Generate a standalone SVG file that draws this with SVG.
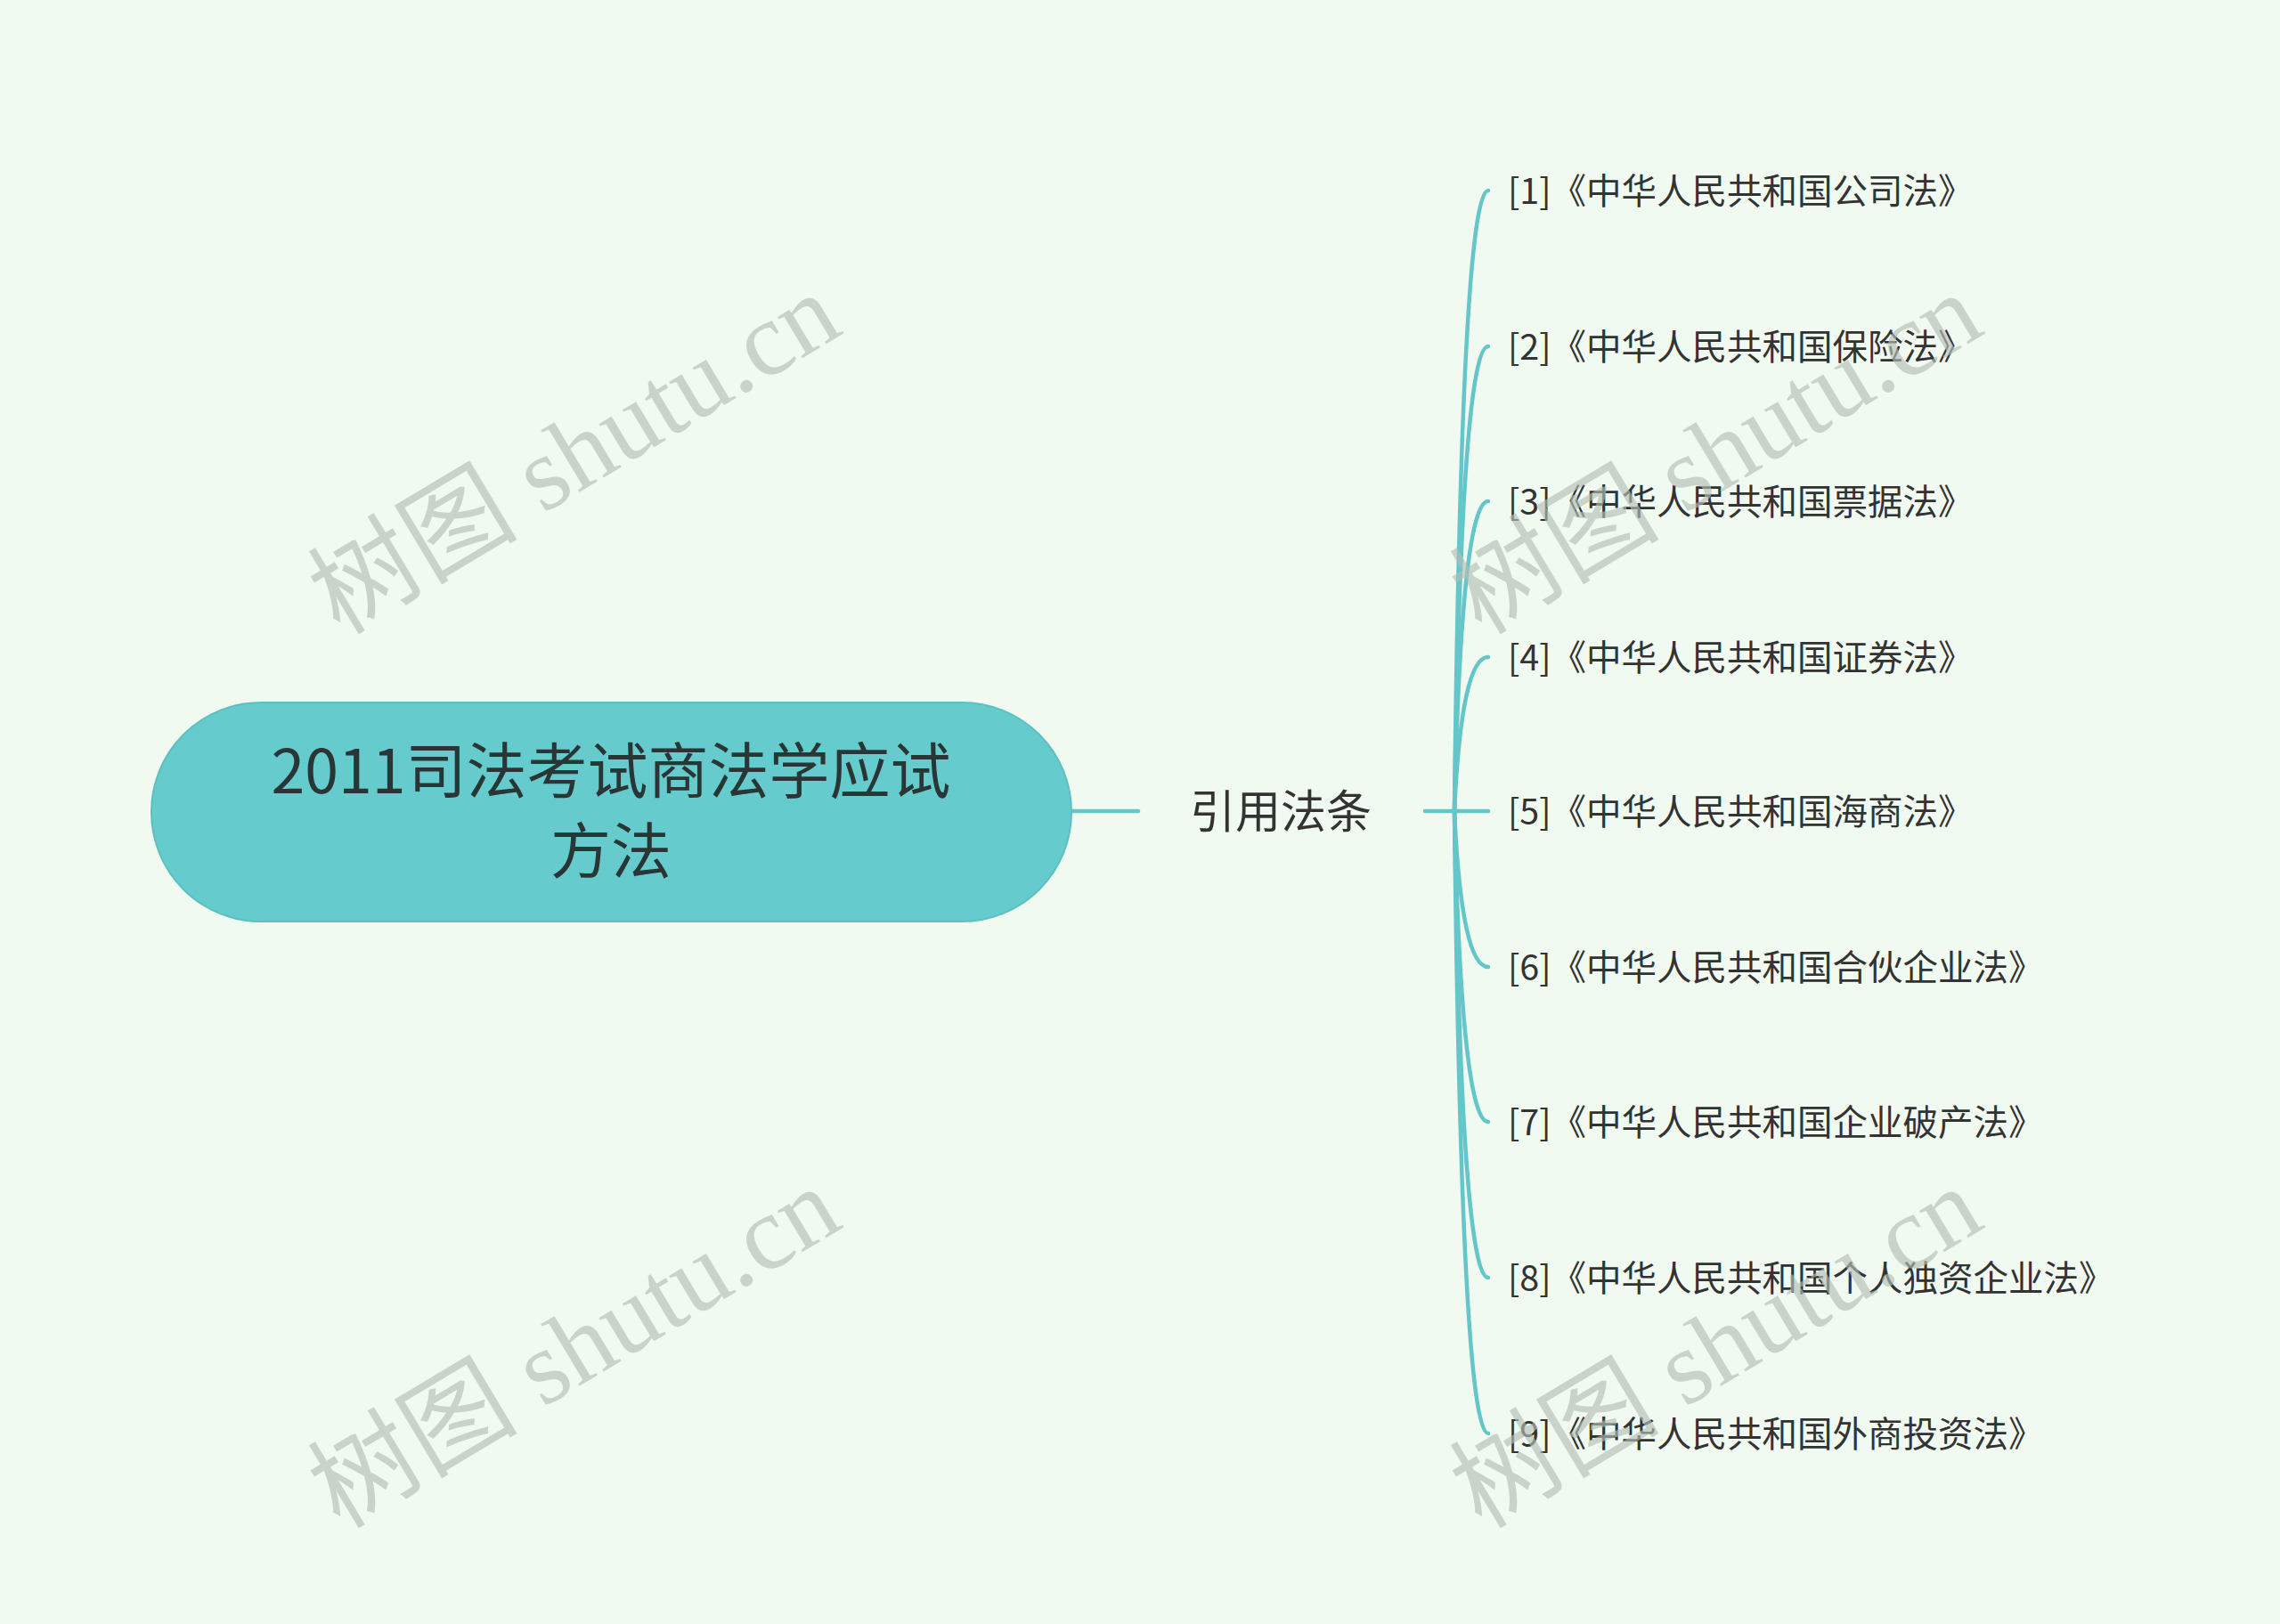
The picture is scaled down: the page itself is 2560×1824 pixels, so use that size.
<svg xmlns="http://www.w3.org/2000/svg" width="2560" height="1824" viewBox="0 0 2560 1824">
<style>
.bg{fill:#f0faf0}
.root{fill:#65cbcc;stroke:#5cc0c1;stroke-width:2}
.rt{font-family:"Noto Sans CJK SC","Noto Sans",sans-serif;font-size:68px;fill:#2a3636;text-anchor:middle;dominant-baseline:central}
.mt{font-family:"Noto Sans CJK SC","Noto Sans",sans-serif;font-size:51px;fill:#333333;text-anchor:middle;dominant-baseline:central}
.ct{font-family:"Noto Sans CJK SC","Noto Sans",sans-serif;font-size:39.5px;fill:#333333;dominant-baseline:central}
.ln{fill:none;stroke:#64c6c9;stroke-width:4.5;stroke-linecap:round}
.wm{font-family:"Liberation Serif","Noto Sans CJK SC",serif;font-size:118px;fill:#b3beb5;fill-opacity:0.65;text-anchor:middle;dominant-baseline:central}
</style>
<rect class="bg" x="0" y="0" width="2560" height="1824"/>
<g id="connectors">
<path class="ln" d="M1203 911 L1278 911"/>
<path class="ln" d="M1600 911 L1633 911"/>
<path class="ln" d="M1633 911 Q1641 214 1671 214"/>
<path class="ln" d="M1633 911 Q1641 389 1671 389"/>
<path class="ln" d="M1633 911 Q1641 563 1671 563"/>
<path class="ln" d="M1633 911 Q1641 738 1671 738"/>
<path class="ln" d="M1633 911 L1671 911"/>
<path class="ln" d="M1633 911 Q1641 1086 1671 1086"/>
<path class="ln" d="M1633 911 Q1641 1260 1671 1260"/>
<path class="ln" d="M1633 911 Q1641 1435 1671 1435"/>
<path class="ln" d="M1633 911 Q1641 1610 1671 1610"/>
</g>
<g id="root">
<rect class="root" x="170" y="789" width="1033" height="246" rx="123" ry="123"/>
<text class="rt" x="686" y="861">2011司法考试商法学应试</text>
<text class="rt" x="686" y="951">方法</text>
</g>
<g id="main">
<text class="mt" x="1438" y="908">引用法条</text>
</g>
<g id="c1"><text class="ct" x="1693" y="211">[1]《中华人民共和国公司法》</text></g>
<g id="c2"><text class="ct" x="1693" y="386">[2]《中华人民共和国保险法》</text></g>
<g id="c3"><text class="ct" x="1693" y="560">[3]《中华人民共和国票据法》</text></g>
<g id="c4"><text class="ct" x="1693" y="735">[4]《中华人民共和国证券法》</text></g>
<g id="c5"><text class="ct" x="1693" y="908">[5]《中华人民共和国海商法》</text></g>
<g id="c6"><text class="ct" x="1693" y="1083">[6]《中华人民共和国合伙企业法》</text></g>
<g id="c7"><text class="ct" x="1693" y="1257">[7]《中华人民共和国企业破产法》</text></g>
<g id="c8"><text class="ct" x="1693" y="1432">[8]《中华人民共和国个人独资企业法》</text></g>
<g id="c9"><text class="ct" x="1693" y="1607">[9]《中华人民共和国外商投资法》</text></g>
<g id="watermarks">
<text class="wm" transform="translate(645 510) rotate(-31)">树图 shutu.cn</text>
<text class="wm" transform="translate(1927 510) rotate(-31)">树图 shutu.cn</text>
<text class="wm" transform="translate(645 1514) rotate(-31)">树图 shutu.cn</text>
<text class="wm" transform="translate(1927 1514) rotate(-31)">树图 shutu.cn</text>
</g>
</svg>
